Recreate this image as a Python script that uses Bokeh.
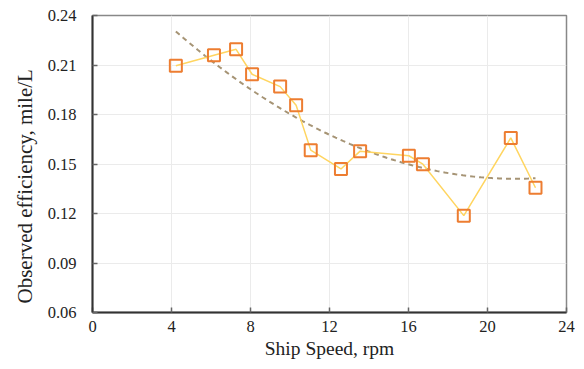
import numpy as np
from bokeh.plotting import figure
from bokeh.models import Range1d, FixedTicker, Title
from bokeh.embed import file_html
from bokeh.resources import INLINE

speed = [4.22, 6.15, 7.27, 8.08, 9.50, 10.31, 11.05, 12.58, 13.55, 16.02, 16.73, 18.80, 21.18, 22.43]
efficiency = [0.2096, 0.2159, 0.2195, 0.2044, 0.1969, 0.1856, 0.1584, 0.1470, 0.1578, 0.1550, 0.1499, 0.1187, 0.1658, 0.1356]
x_ticks = [0, 4, 8, 12, 16, 20, 24]
y_ticks = [0.06, 0.09, 0.12, 0.15, 0.18, 0.21, 0.24]

coef = np.polyfit(speed, efficiency, 2)
tx = np.linspace(min(speed), max(speed), 100)
ty = np.polyval(coef, tx)

p = figure(width=576, height=361, output_backend="svg", toolbar_location=None,
           x_range=Range1d(0, 24), y_range=Range1d(0.06, 0.24),
           min_border_left=92, min_border_right=10, min_border_top=15, min_border_bottom=49)

font = "Liberation Serif"
p.line(tx, ty, line_color="#A69475", line_width=2, line_dash="5 4")
p.line(speed, efficiency, line_color="#FFD560", line_width=1.5)
p.scatter(speed, efficiency, marker="square", size=12, fill_color=None,
          line_color="#ED7D31", line_width=2)

p.outline_line_color = "#888888"
p.outline_line_width = 1.5
for ax in (p.xaxis, p.yaxis):
    ax.axis_line_color = "#333333"
    ax.axis_line_width = 2
    ax.major_tick_in = 5
    ax.major_tick_out = 0
    ax.minor_tick_line_color = None
    ax.major_tick_line_color = "#666666"
    ax.major_tick_line_width = 1.5
    ax.major_label_text_font = font
    ax.major_label_text_font_size = "16.5px"
    ax.major_label_text_color = "#222222"
    ax.axis_label_text_font = font
    ax.axis_label_text_font_size = "19.5px"
    ax.axis_label_text_font_style = "normal"
    ax.axis_label_text_color = "#222222"

p.xaxis.ticker = FixedTicker(ticks=x_ticks)
p.yaxis.ticker = FixedTicker(ticks=y_ticks)
p.yaxis.major_label_overrides = {t: f"{t:.2f}" for t in y_ticks}
p.xaxis.major_label_standoff = 8
p.yaxis.major_label_standoff = 16
p.xaxis.axis_label = "Ship Speed, rpm"
p.xaxis.axis_label_standoff = 3

ylab = Title(text="Observed efficiency, mile/L", align="left", offset=9,
             text_font=font, text_font_size="21px", text_color="#222222",
             text_font_style="normal", standoff=15)
p.add_layout(ylab, "left")

p.xgrid.grid_line_color = "#EBEBEB"
p.ygrid.grid_line_color = "#EBEBEB"
p.xgrid.ticker = FixedTicker(ticks=x_ticks)
p.ygrid.ticker = FixedTicker(ticks=y_ticks)

open("out.html", "w").write(file_html(p, INLINE))
